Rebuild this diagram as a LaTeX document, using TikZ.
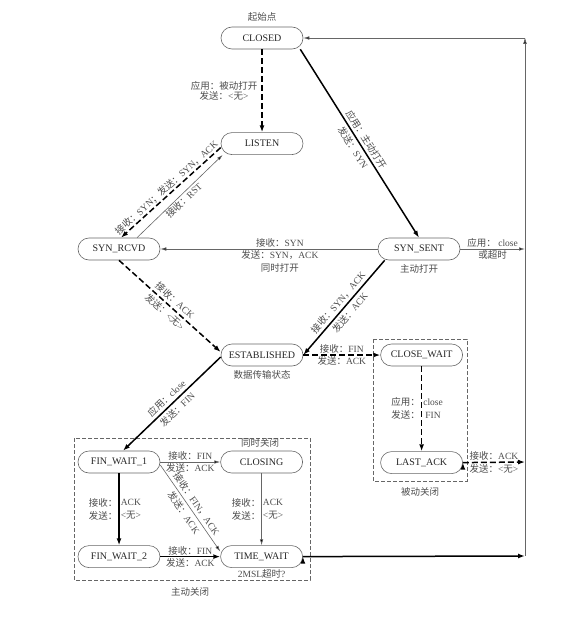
\documentclass[tikz,border=0pt]{standalone}
\usepackage{fontspec}
\setmainfont{Liberation Serif}
\newfontfamily\cjk{Noto Sans CJK SC}
\newcommand{\zh}[1]{{\cjk #1}}
\usetikzlibrary{positioning, arrows.meta}

\begin{document}
\begin{tikzpicture}[
    x=1pt, y=-1pt,
    >={Latex[length=7pt,width=5pt]},
    font=\fontsize{9.5}{13}\selectfont,
    tcp/.style={
      draw=black!60,
      line width=0.6pt,
      rounded corners=11pt,
      minimum width=82pt,
      minimum height=22pt,
      inner sep=0pt,
      font=\fontsize{10}{12}\selectfont,
      text=black!85
    },
    lbl/.style={text=black!70, inner sep=1pt, align=center},
    duo/.style={lbl, font=\fontsize{9.5}{15.5}\selectfont},
    strong/.style={draw=black, line width=1.5pt, ->},
    strongdash/.style={strong, dash pattern=on 6pt off 3pt},
    slim/.style={draw=black!60, line width=0.6pt, -{Latex[length=6pt,width=3.5pt]}},
    box/.style={draw=black!60, line width=0.6pt, dash pattern=on 4pt off 2pt}
  ]
  \useasboundingbox (0,0) rectangle (569,618);

  % states
  \node[tcp] (CL) at (262,38) {CLOSED};
  \node[tcp, below=83pt of CL] (LI) {LISTEN};
  \node[tcp] (SR) at (119,249) {SYN\_RCVD};
  \node[tcp] (SS) at (419,249) {SYN\_SENT};
  \node[tcp] (ES) at (262,355) {ESTABLISHED};
  \node[tcp, right=77pt of ES] (CW) {CLOSE\_WAIT};
  \node[tcp, below=85pt of CW] (LA) {LAST\_ACK};
  \node[tcp] (F1) at (119,462) {FIN\_WAIT\_1};
  \node[tcp, right=60pt of F1] (CG) {CLOSING};
  \node[tcp, below=72pt of F1] (F2) {FIN\_WAIT\_2};
  \node[tcp, below=72pt of CG] (TW) {TIME\_WAIT};

  % right return line
  \coordinate (R0) at (525,38);
  \coordinate (R1) at (525,249);
  \coordinate (R2) at (525,462);
  \coordinate (R3) at (525,556);

  % close groups
  \draw[box] (373,339) rectangle (467,481);
  \draw[box] (74,438) rectangle (310,580);

  \node[lbl, above=4pt of CL] (start) {\zh{起始点}};
  \node[lbl, below=3pt of SS] (actopen) {\zh{主动打开}};
  \node[lbl, below=3pt of ES] (transfer) {\zh{数据传输状态}};
  \node[lbl] (passive) at (420,492) {\zh{被动关闭}};
  \node[lbl] (active) at (190,592) {\zh{主动关闭}};
  \node[lbl] (simul) at (260,443) {\zh{同时关闭}};
  \node[lbl, below=0pt of TW] (msl) {2MSL\zh{超时}?};

  \path[strongdash]
  (CL) edge node[lbl, left=3pt, font=\fontsize{9.5}{10}\selectfont]
    {\zh{应用：被动打开}\\\zh{发送：}<\zh{无}>} (LI)
  ([yshift=-4pt]LI.west) edge node[lbl, above, sloped]
    {\zh{接收：}SYN\zh{；发送：}SYN\zh{，}ACK} ([xshift=2pt]SR.north)
  (SR.south) edge node[duo, sloped]
    {\zh{接收：}ACK\\\zh{发送：}<\zh{无}>} ([yshift=3pt]ES.west)
  (ES) edge node[lbl, above] {\zh{接收：}FIN} node[lbl, below] {\zh{发送：}ACK} (CW)
  (CW) edge node[lbl, left] {\zh{应用：}\\\zh{发送：}} node[lbl, right] {close\\FIN} (LA)
  (LA.east) edge node[lbl, above] {\zh{接收：}ACK} node[lbl, below] {\zh{发送：}<\zh{无}>} (R2);

  \path[strong]
  ([xshift=-3pt]CL.south east) edge node[duo, sloped]
    {\zh{应用：主动打开}\\\zh{发送：}SYN} (SS.north)
  ([xshift=7pt]SS.south west) edge node[duo, sloped]
    {\zh{接收：}SYN\zh{，}ACK\\\zh{发送：}ACK} (ES.east)
  ([yshift=-2pt]ES.west) edge node[duo, sloped]
    {\zh{应用：}close\\\zh{发送：}FIN} ([xshift=4pt]F1.north)
  (F1) edge node[lbl, left] {\zh{接收：}\\\zh{发送：}} node[lbl, right] {ACK\\<\zh{无}>} (F2)
  (F2) edge node[lbl, above] {\zh{接收：}FIN} node[lbl, below] {\zh{发送：}ACK} (TW)
  (TW.east) edge (R3);

  \path[slim]
  ([xshift=18pt]SR.north) edge node[lbl, below, sloped] {\zh{接收：}RST} ([xshift=2pt]LI.south west)
  (SS) edge node[lbl, above, pos=.45] {\zh{接收：}SYN}
    node[lbl, below, pos=.45] {\zh{发送：}SYN\zh{，}ACK\\\zh{同时打开}} (SR)
  (SS.east) edge node[lbl, above] {\zh{应用：} close} node[lbl, below] {\zh{或超时}} (R1)
  (F1) edge node[lbl, above] {\zh{接收：}FIN} node[lbl, below] {\zh{发送：}ACK} (CG)
  ([yshift=-3pt]F1.east) edge node[duo, sloped]
    {\zh{接收：}FIN\zh{，}ACK\\\zh{发送：}ACK} ([yshift=5pt]TW.west)
  (CG) edge node[lbl, left] {\zh{接收：}\\\zh{发送：}} node[lbl, right] {ACK\\<\zh{无}>} (TW)
  (R3) edge (R0)
  (R0) edge (CL.east);
\end{tikzpicture}
\end{document}
